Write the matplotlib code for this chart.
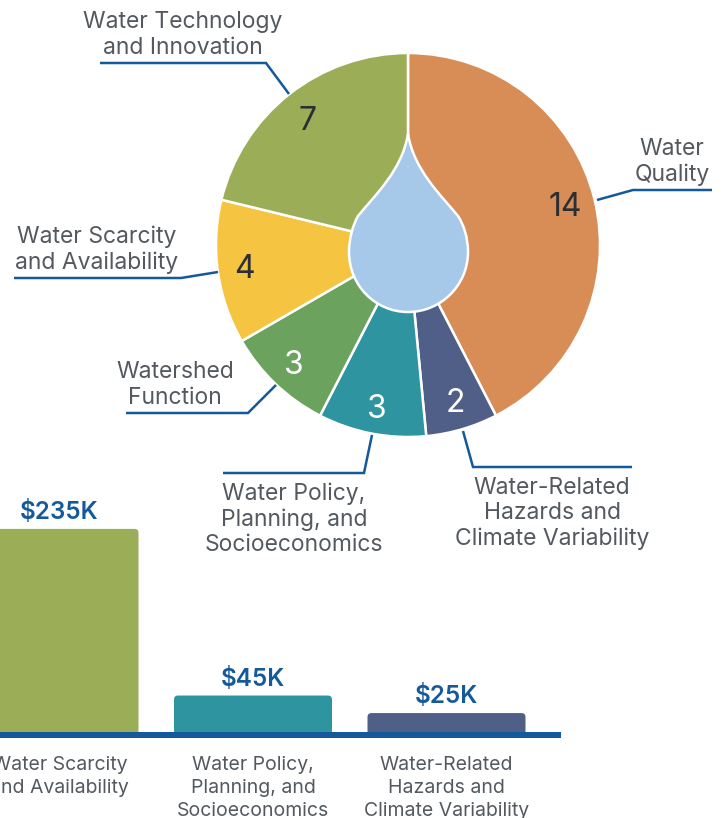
import numpy as np
import matplotlib
matplotlib.use('Agg')
import matplotlib.pyplot as plt
from matplotlib.patches import FancyBboxPatch, PathPatch
from matplotlib.path import Path

plt.rcParams['font.family'] = ['Inter', 'DejaVu Sans']

# pie data, clockwise from 12 o'clock
pie_names = ['Water\nQuality', 'Water-Related\nHazards and\nClimate Variability',
             'Water Policy,\nPlanning, and\nSocioeconomics', 'Watershed\nFunction',
             'Water Scarcity\nand Availability', 'Water Technology\nand Innovation']
pie_values = [14, 2, 3, 3, 4, 7]
pie_colors = ['#d88d56', '#505f87', '#2e95a0', '#6ba35e', '#f5c440', '#9cad58']
pie_num_colors = ['#2b2f33', 'white', 'white', 'white', '#2b2f33', '#2b2f33']

# bar data
bar_names = ['Water Scarcity\nand Availability', 'Water Policy,\nPlanning, and\nSocioeconomics',
             'Water-Related\nHazards and\nClimate Variability']
bar_values = [235, 45, 25]
bar_labels = ['$235K', '$45K', '$25K']
bar_colors = ['#9cad58', '#2e95a0', '#505f87']

W, H = 726, 818
BLUE = '#14599a'
GREY = '#53595f'
CX, CY, R = 408, 245, 192

fig = plt.figure(figsize=(W / 100, H / 100), dpi=100)

# full figure overlay in pixel coords, for labels and leader lines
ov = fig.add_axes([0, 0, 1, 1])
ov.set_xlim(0, W)
ov.set_ylim(H, 0)
ov.axis('off')
ov.set_zorder(5)

# pie
ax = fig.add_axes([(CX - R) / W, 1 - (CY + R) / H, 2 * R / W, 2 * R / H])
ax.pie(pie_values, colors=pie_colors, startangle=90, counterclock=False, radius=1,
       wedgeprops={'edgecolor': 'white', 'linewidth': 1.8})
ax.set_xlim(-1, 1)
ax.set_ylim(-1, 1)

# water drop in the middle
def d(x, y):
    return ((x - CX) / R, (CY - y) / R)

drop_pts = [(408, 134),
            (414, 170), (440, 194), (458, 216),
            (464, 225), (468, 238), (468, 252),
            (468, 285), (441, 312), (408, 312),
            (375, 312), (349, 285), (349, 252),
            (349, 238), (353, 225), (358, 216),
            (376, 194), (402, 170), (408, 134)]
drop_codes = [Path.MOVETO] + [Path.CURVE4] * 18
ax.add_patch(PathPatch(Path([d(*p) for p in drop_pts], drop_codes),
                       facecolor='#a6c9ea', edgecolor='white', linewidth=1.8, zorder=5))

# numbers on the slices
num_pos = [(565, 208), (455, 403), (377, 409), (294, 365), (244, 269), (308, 122)]
for v, c, (x, y) in zip(pie_values, pie_num_colors, num_pos):
    ov.text(x, y, str(v), color=c, fontsize=23, ha='center', va='center', zorder=10)

# outer labels with leader lines
label_pos = [(672, 162), (552, 513.5), (294, 519), (175, 385), (97, 250), (183, 35)]
leaders = [[(712, 190), (633, 190), (597, 200)],
           [(632, 467), (473, 467), (463, 431)],
           [(223, 473), (364, 473), (372, 435)],
           [(126, 413), (248, 413), (276, 385)],
           [(14, 278), (181, 278), (218, 272)],
           [(100, 63), (266, 63), (289, 94)]]
for name, (x, y), pts in zip(pie_names, label_pos, leaders):
    ov.text(x, y, name, color=GREY, fontsize=16.5, ha='center', va='center',
            multialignment='center', linespacing=1.2)
    xs, ys = zip(*pts)
    ov.plot(xs, ys, color=BLUE, linewidth=1.8, solid_joinstyle='miter', solid_capstyle='butt')

# bars: x in category units, y in $K
X0, STEP = 59.5, 193.5
Y0, KPX = 735, 0.877
bx = fig.add_axes([0, 0, 1, 1])
bx.patch.set_alpha(0)
bx.set_xlim((0 - X0) / STEP, (W - X0) / STEP)
bx.set_ylim((Y0 - H) / KPX, Y0 / KPX)
bar_w = 158 / STEP
aspect = (1 / KPX) / (1 / STEP)
for i, (v, c, t) in enumerate(zip(bar_values, bar_colors, bar_labels)):
    bx.add_patch(FancyBboxPatch((i - bar_w / 2, 0), bar_w, v,
                                boxstyle=f'round,pad=0,rounding_size={4 / STEP}',
                                mutation_aspect=aspect, facecolor=c, edgecolor='none'))
    bx.annotate(t.replace('$', r'\$'), (i, v), xytext=(0, 5), textcoords='offset pixels',
                color=BLUE, fontsize=17.5, fontweight='semibold', ha='center', va='bottom')
bx.hlines(0, bx.get_xlim()[0], (561 - X0) / STEP, color=BLUE, linewidth=6 * 0.72, zorder=5)
bx.set_xticks(range(len(bar_names)))
bx.set_xticklabels(bar_names, color=GREY, fontsize=14, linespacing=1.38, va='top')
bx.tick_params(axis='x', length=0, pad=-45)
bx.set_yticks([])
for s in bx.spines.values():
    s.set_visible(False)

fig.savefig('out.png', dpi=100)
